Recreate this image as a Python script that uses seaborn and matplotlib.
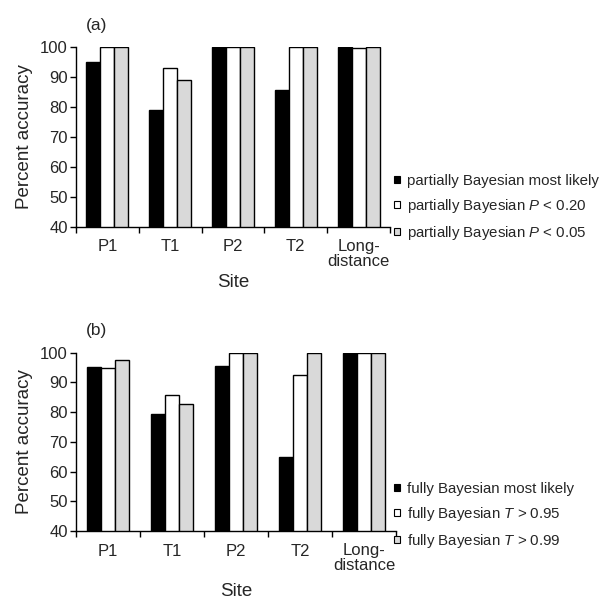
import numpy as np
import pandas as pd
import matplotlib
matplotlib.use("Agg")
import matplotlib.pyplot as plt
import seaborn as sns
from matplotlib.patches import Patch

# ------------------------------
# data
# ------------------------------
sites = ["P1", "T1", "P2", "T2", "Long-\ndistance"]

partial_most_likely = [95.2, 79.0, 100.0, 85.8, 100.0]
partial_p020 = [100.0, 93.0, 100.0, 100.0, 99.7]
partial_p005 = [100.0, 89.0, 100.0, 100.0, 100.0]

full_most_likely = [95.2, 79.4, 95.5, 64.8, 99.8]
full_t095 = [95.0, 85.8, 100.0, 92.4, 100.0]
full_t099 = [97.5, 82.9, 100.0, 100.0, 100.0]

labels_a = ["partially Bayesian most likely",
            "partially Bayesian $P$ < 0.20",
            "partially Bayesian $P$ < 0.05"]
labels_b = ["fully Bayesian most likely",
            "fully Bayesian $T$ > 0.95",
            "fully Bayesian $T$ > 0.99"]

colors = ["#000000", "#ffffff", "#d9d9d9"]

sns.set_style("white")
plt.rcParams["font.family"] = ["Liberation Sans", "DejaVu Sans"]
plt.rcParams["mathtext.fontset"] = "custom"
plt.rcParams["mathtext.it"] = "Liberation Sans:italic"
plt.rcParams["mathtext.rm"] = "Liberation Sans"


def long_df(series, labels):
    rows = []
    for vals, lab in zip(series, labels):
        for s, v in zip(sites, vals):
            rows.append({"Site": s, "Method": lab, "Accuracy": v})
    return pd.DataFrame(rows)


fig = plt.figure(figsize=(6.16, 6.02), dpi=100)
ax_a = fig.add_axes([76 / 616, 1 - 226.7 / 602, 314 / 616, 179.4 / 602])
ax_b = fig.add_axes([76 / 616, 1 - 531 / 602, 320 / 616, 178.3 / 602])

panels = [
    (ax_a, [partial_most_likely, partial_p020, partial_p005], labels_a, "(a)", 178, 4),
    (ax_b, [full_most_likely, full_t095, full_t099], labels_b, "(b)", 486, 7),
]

for ax, series, labels, tag, leg_y, xpad in panels:
    df = long_df(series, labels)
    sns.barplot(data=df, x="Site", y="Accuracy", hue="Method",
                palette=colors, edgecolor="black", linewidth=1.0,
                width=0.667, ax=ax, legend=False)
    ax.set_ylim(40, 100)
    ax.set_xlim(-0.5, len(sites) - 0.5)
    ax.set_yticks(np.arange(40, 101, 10))
    ax.set_xticks(np.arange(len(sites)))
    ax.set_xticklabels(sites, fontsize=12, linespacing=0.95)
    ax.set_xticks(np.arange(len(sites) + 1) - 0.5, minor=True)
    ax.tick_params(axis="x", which="major", length=0, pad=9, bottom=False)
    ax.tick_params(axis="x", which="minor", length=4, width=1, direction="out",
                   color="black", bottom=True)
    ax.tick_params(axis="y", length=4, width=1, direction="out", color="black",
                   labelsize=12, pad=2, left=True)
    ax.set_ylabel("Percent accuracy", fontsize=13.5, labelpad=5)
    ax.set_xlabel("Site", fontsize=13.5, labelpad=xpad)
    sns.despine(ax=ax)
    for sp in ["left", "bottom"]:
        ax.spines[sp].set_color("black")
        ax.spines[sp].set_linewidth(1.0)
    ax.text(0.03, 1.08, tag, transform=ax.transAxes, fontsize=12.5,
            ha="left", va="bottom")
    handles = [Patch(facecolor=c, edgecolor="black", linewidth=0.8) for c in colors]
    fig.legend(handles, labels, loc="upper left",
               bbox_to_anchor=(388 / 616, 1 - (leg_y - 10) / 602),
               frameon=False, fontsize=10.8, handlelength=0.4, handleheight=0.4,
               handletextpad=0.45, labelspacing=0.6, borderaxespad=0)

fig.savefig("out.png", dpi=100)
